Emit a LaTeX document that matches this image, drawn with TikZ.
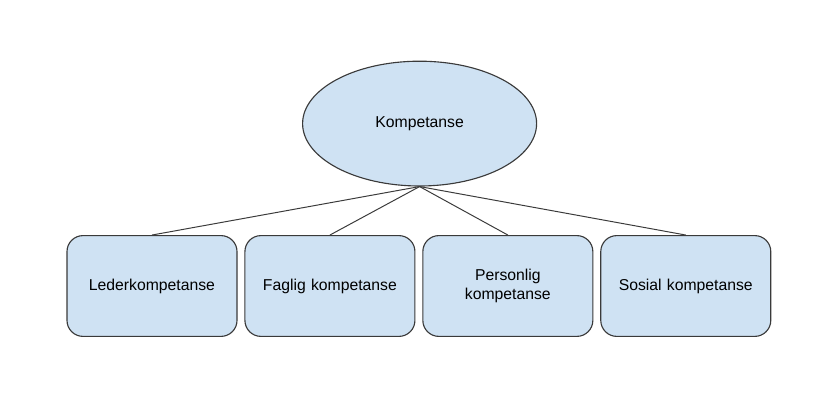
\documentclass[tikz,border=0pt]{standalone}
\usepackage{fontspec}
\setmainfont{Liberation Sans}
\usepackage{tikz}
\usetikzlibrary{positioning, shapes.geometric}

\definecolor{boxblue}{HTML}{CFE2F3}
\definecolor{edgegray}{HTML}{3A3A3A}

\begin{document}
\begin{tikzpicture}[
    node distance=0.17cm,
    every node/.style={draw=edgegray, line width=0.8pt, fill=boxblue, align=center, font=\fontsize{11.2}{14}\selectfont},
    box/.style={rectangle, rounded corners=0.4cm, minimum width=4.25cm, minimum height=2.52cm, text width=3.9cm},
    link/.style={draw=edgegray, line width=0.7pt}
]
\useasboundingbox (0,0) rectangle (20.4,-10.025);

% Nodes
\node (komp) [ellipse, minimum width=5.85cm, minimum height=3.12cm, inner sep=0pt] at (10.49,-3.09) {Kompetanse};
\node (leder) [box] at (3.8,-7.15) {Lederkompetanse};
\node (faglig) [box, right=of leder] {Faglig kompetanse};
\node (person) [box, right=of faglig] {Personlig\\kompetanse};
\node (sosial) [box, right=of person] {Sosial kompetanse};

% Lines
\draw [link] (komp.south) -- (leder.north);
\draw [link] (komp.south) -- (faglig.north);
\draw [link] (komp.south) -- (person.north);
\draw [link] (komp.south) -- (sosial.north);

\end{tikzpicture}
\end{document}
